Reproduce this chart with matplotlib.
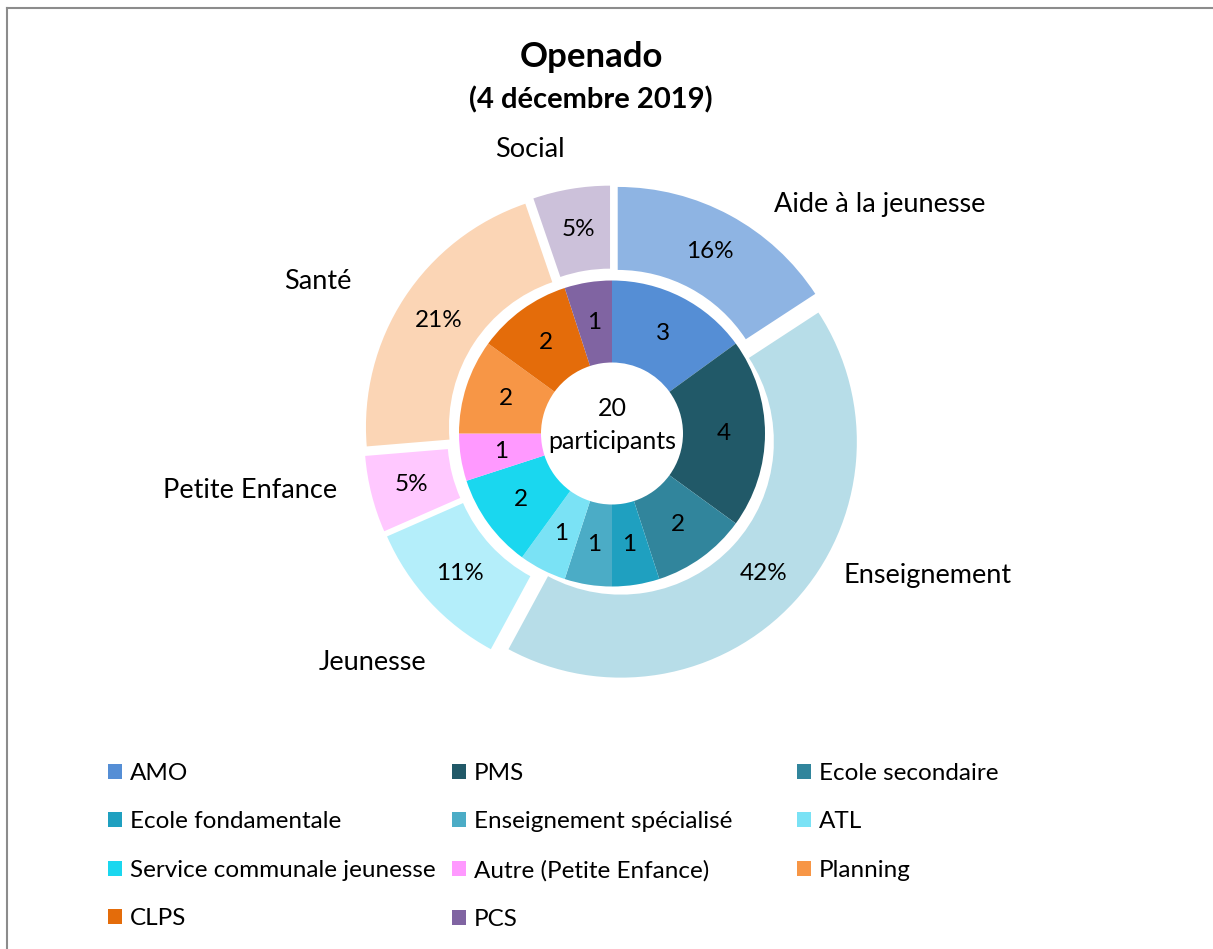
import matplotlib.pyplot as plt
from matplotlib.patches import Patch

plt.rcParams['font.family'] = ['Lato', 'DejaVu Sans']

# outer ring: sectors (counts as used for the percentages)
sectors = ['Aide à la jeunesse', 'Enseignement', 'Jeunesse', 'Petite Enfance', 'Santé', 'Social']
sector_counts = [3, 8, 2, 1, 4, 1]
sector_colors = ['#8eb4e3', '#b7dde8', '#b4eefa', '#ffc8ff', '#fbd5b5', '#ccc1da']

# inner ring: services
services = ['AMO', 'PMS', 'Ecole secondaire', 'Ecole fondamentale', 'Enseignement spécialisé',
            'ATL', 'Service communale jeunesse', 'Autre (Petite Enfance)', 'Planning', 'CLPS', 'PCS']
service_counts = [3, 4, 2, 1, 1, 1, 2, 1, 2, 2, 1]
service_colors = ['#558ed5', '#215968', '#31859c', '#1fa0c0', '#4bacc6', '#7ae2f5',
                  '#1ad7ef', '#ff99ff', '#f79646', '#e46c0a', '#8064a2']

total = sum(service_counts)

W, H = 1213, 949
fig = plt.figure(figsize=(W / 100, H / 100), dpi=100)
ax = fig.add_axes([0, 0, 1, 1])

cx, cy = 612, H - 433.5
r_out, r_mid, r_in = 236, 153, 71

# outer ring, exploded
ax.pie(sector_counts, colors=sector_colors, radius=r_out, center=(cx, cy),
       startangle=90, counterclock=False, explode=[12] * len(sector_counts),
       wedgeprops=dict(width=r_out - r_mid, linewidth=0),
       autopct='%.0f%%', pctdistance=(r_out + r_mid) / 2 / r_out,
       textprops=dict(fontsize=17.5, color='black'), frame=True)

# inner ring
ax.pie(service_counts, colors=service_colors, radius=r_mid, center=(cx, cy),
       startangle=90, counterclock=False,
       wedgeprops=dict(width=r_mid - r_in, linewidth=0),
       autopct=lambda p: '%d' % round(p * total / 100),
       pctdistance=(r_mid + r_in) / 2 / r_mid,
       textprops=dict(fontsize=17.5, color='black'), frame=True)
ax.set_xlim(0, W)
ax.set_ylim(0, H)
ax.set_aspect('equal')
ax.axis('off')

ax.text(cx, H - 408, str(total), ha='center', va='center', fontsize=18)
ax.text(cx, H - 441, 'participants', ha='center', va='center', fontsize=18)

# sector names around the ring
label_pos = [(880, 204), (928, 575), (373, 662), (250, 490), (318, 281), (530, 149)]
for name, (lx, ly) in zip(sectors, label_pos):
    ax.text(lx, H - ly, name, ha='center', va='center', fontsize=19.5)

# titles
ax.text(591, H - 57, 'Openado', ha='center', va='center', fontsize=25, fontweight='bold')
ax.text(591, H - 100, '(4 décembre 2019)', ha='center', va='center', fontsize=21,
        fontweight='bold')

# legend, row-wise like the original, three columns
handles = [Patch(facecolor=c, edgecolor='none') for c in service_colors]
col_x = [108, 452, 797]
for k, x0 in enumerate(col_x):
    idx = list(range(k, len(services), 3))
    fig.legend([handles[i] for i in idx], [services[i] for i in idx],
               loc='upper left', bbox_to_anchor=(x0 / W, (H - 763) / H),
               frameon=False, fontsize=17.5,
               handlelength=0.58, handleheight=0.58, handletextpad=0.33,
               labelspacing=1.13, borderpad=0, borderaxespad=0)

# chart frame (top and left edges visible)
fig.add_artist(plt.Line2D([7, 7], [0, H - 8], transform=None, color='#8c8c8c', linewidth=1.5))
fig.add_artist(plt.Line2D([7, W], [H - 8, H - 8], transform=None, color='#8c8c8c', linewidth=1.5))

fig.savefig('out.png', dpi=100)
